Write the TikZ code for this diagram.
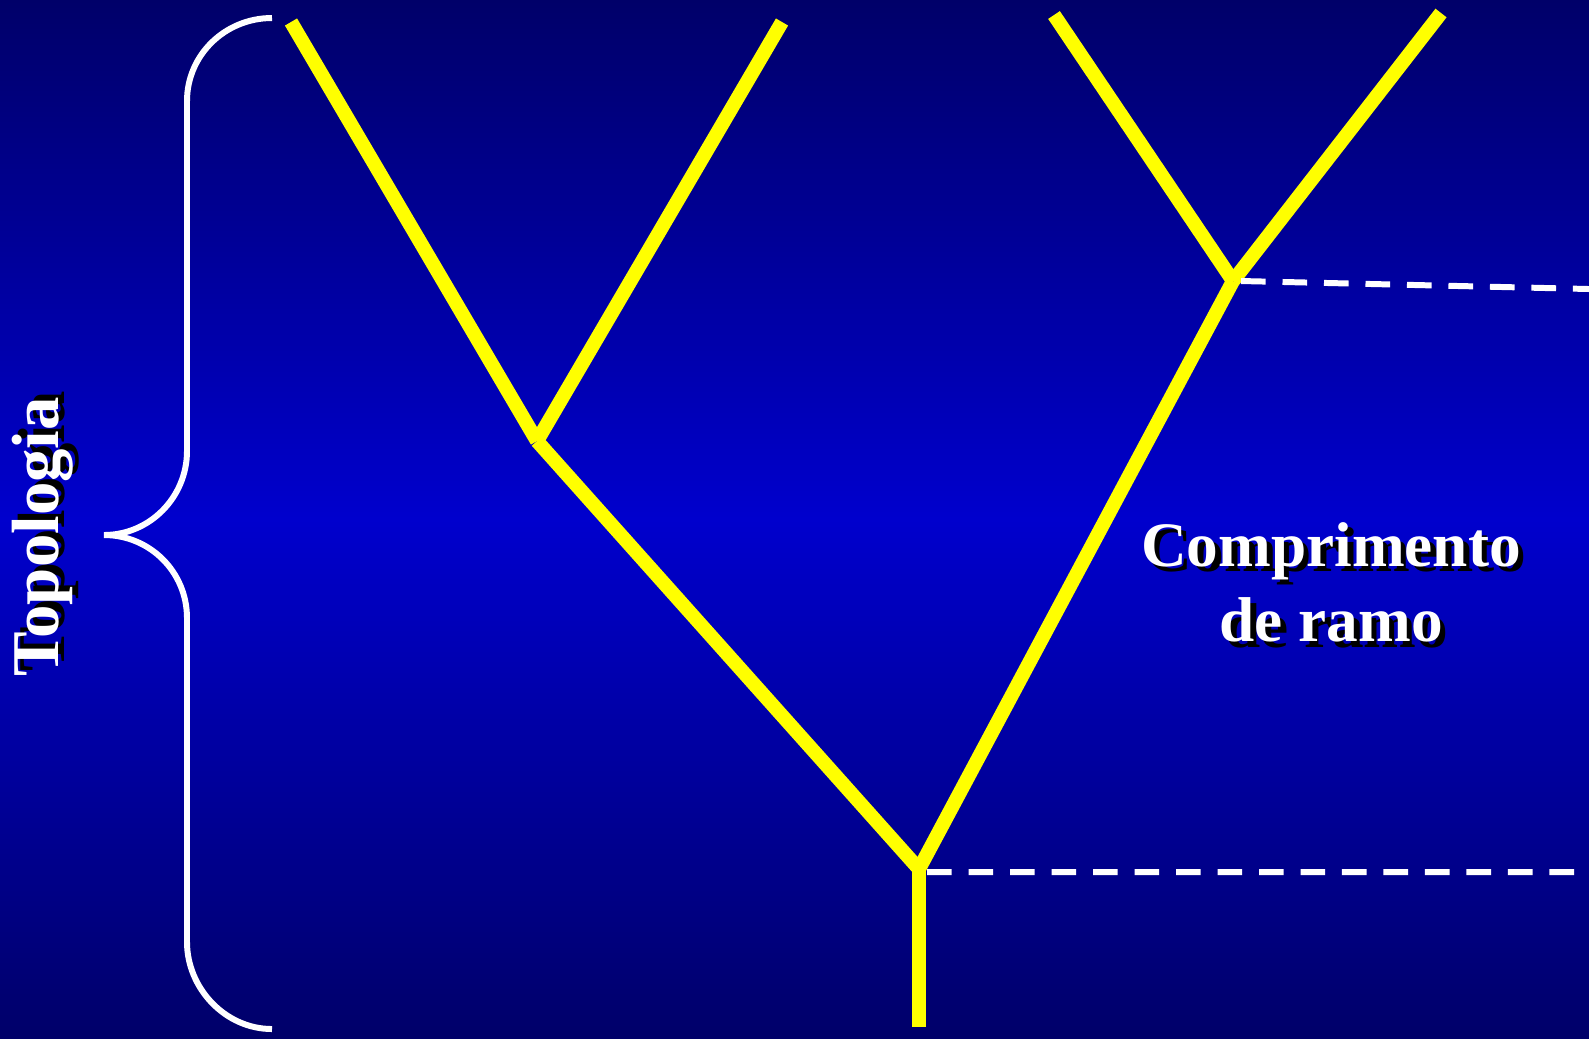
\documentclass[tikz,border=0pt]{standalone}
\usepackage{fontspec}
\setmainfont{Liberation Serif}
\usetikzlibrary{positioning, calc}
\definecolor{bgdark}{RGB}{0, 0, 105}
\definecolor{bgmid}{RGB}{0, 0, 205}
\definecolor{branchcol}{RGB}{255, 255, 0}
\definecolor{bracecol}{RGB}{255, 255, 255}
\newcommand{\shadowtxt}[1]{\rlap{\hspace{1.6pt}\raisebox{-1.6pt}{\color{black}#1}}#1}

\begin{document}
\begin{tikzpicture}[
    x=0.01cm, y=-0.01cm,
    branch/.style={line width=4pt, branchcol},
    bracket/.style={line width=1.7pt, bracecol},
    level/.style={line width=1.7pt, bracecol, dash pattern=on 7pt off 4.8pt},
    label/.style={text=white, font=\fontsize{18}{21.5}\selectfont\bfseries, align=center}
    ]
    % Background
    \shade[top color=bgdark, bottom color=bgdark, middle color=bgmid] (0,0) rectangle (1589,1038);
    \useasboundingbox (0,0) rectangle (1589,1038);

    % Tree points
    \coordinate (leafa) at (291,22);
    \coordinate (leafb) at (782,22);
    \coordinate (leafc) at (1054,15);
    \coordinate (leafd) at (1441,13);
    \coordinate (nodea) at (537,441);
    \coordinate (nodeb) at (1233,281);
    \coordinate (root) at (919,869);
    \coordinate (rootend) at (919,1027);
    \coordinate (levelb) at (1589,289);
    \coordinate (levelr) at (1589,872);

    % Branches
    \draw[branch] (leafa) -- (nodea);
    \draw[branch] (leafb) -- (nodea);
    \draw[branch] (nodea) -- (root);
    \draw[branch] (leafc) -- (nodeb);
    \draw[branch] (leafd) -- (nodeb);
    \draw[branch] (nodeb) -- (root);
    \draw[branch] (root) -- (rootend);

    % Levels
    \draw[level] ([xshift=0.08cm]nodeb) -- (levelb);
    \draw[level] ([xshift=0.08cm, yshift=-0.03cm]root) -- (levelr);

    % Brace
    \draw[bracket] (272,18) .. controls (225,18) and (187,55) .. (187,101)
      -- (187,451) .. controls (187,497) and (150,535) .. (104,535)
      .. controls (150,535) and (187,572) .. (187,618)
      -- (187,942) .. controls (187,988) and (225,1029) .. (272,1029);

    % Labels
    \node[label, rotate=90, font=\fontsize{19}{22}\selectfont\bfseries] (topo) at (46,537) {\shadowtxt{Topologia}};
    \node[label] (brlen) at (1331,585) {\shadowtxt{Comprimento}\\\shadowtxt{de ramo}};
  \end{tikzpicture}
\end{document}
